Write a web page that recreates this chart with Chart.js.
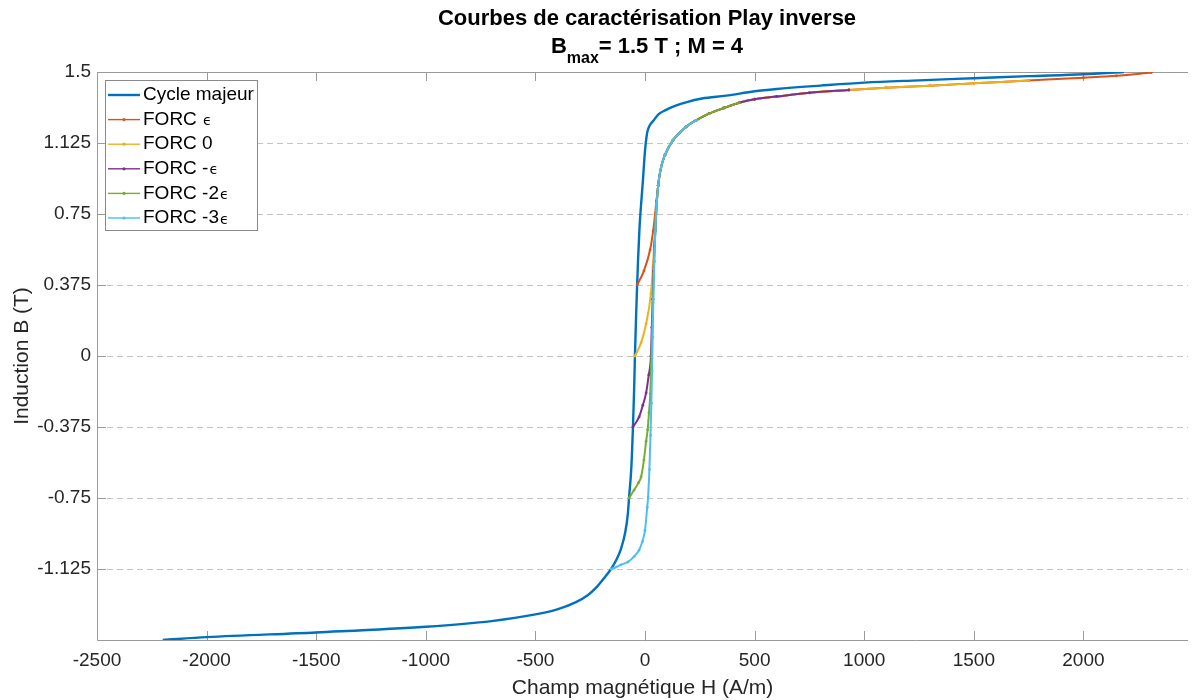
<!DOCTYPE html>
<html>
<head>
<meta charset="utf-8">
<script src="https://cdn.jsdelivr.net/npm/chart.js@4.4.1/dist/chart.umd.min.js"></script>
<style>
  html, body { margin: 0; padding: 0; background: #fff; }
</style>
</head>
<body>
<canvas id="chart" width="1192" height="700"></canvas>
<script>
// Courbes de caractérisation Play inverse - cycle majeur + FORC
const TITLE = 'Courbes de caractérisation Play inverse';
const SUBTITLE = ['B', 'max', '= 1.5 T ; M = 4'];
const X_LABEL = 'Champ magnétique H (A/m)';
const Y_LABEL = 'Induction B (T)';

const X_TICKS = [-2500, -2000, -1500, -1000, -500, 0, 500, 1000, 1500, 2000];
const Y_TICKS = [-1.125, -0.75, -0.375, 0, 0.375, 0.75, 1.125, 1.5];

// cycle majeur (branche descendante)
const MAJOR_H = [-2200, -2000, -1500, -1000, -700, -500, -400, -315, -260, -224, -190, -155, -130, -110, -90, -78, -73, -64, -60, -55, -50, -46, -41, -36, -32, -25, -18, -10, -3, 3, 10, 20, 41, 60, 96, 140, 187, 260, 370, 500, 600, 800, 1000, 1250, 1500, 1750, 2000, 2185];
const MAJOR_B = [-1.5, -1.485, -1.46, -1.43, -1.4, -1.365, -1.338, -1.3, -1.262, -1.225, -1.178, -1.125, -1.075, -1.02, -0.93, -0.83, -0.75, -0.62, -0.53, -0.375, -0.19, 0, 0.2, 0.375, 0.5, 0.68, 0.8, 0.92, 1.04, 1.12, 1.18, 1.215, 1.247, 1.275, 1.30, 1.322, 1.34, 1.36, 1.375, 1.398, 1.41, 1.428, 1.444, 1.456, 1.467, 1.478, 1.488, 1.5];

// branche montante commune des FORC
const ENV_H = [0, 10, 14, 20, 25, 29, 32, 35, 38, 42, 47, 53, 60, 70, 90, 128, 187, 233, 292, 360, 430, 500, 600, 750, 930, 1100, 1300, 1500, 1750, 2000, 2150, 2310];
const ENV_B = [-0.92, -0.8, -0.745, -0.6, -0.42, -0.25, -0.08, 0.1, 0.3, 0.5, 0.66, 0.8, 0.9, 0.98, 1.06, 1.14, 1.21, 1.245, 1.28, 1.31, 1.338, 1.356, 1.37, 1.39, 1.405, 1.417, 1.428, 1.44, 1.455, 1.47, 1.48, 1.497];

// début propre de chaque FORC (depuis le point de retournement)
const FORC_EPS_H = [-36, -5, 23, 37, 46, 52, 57];
const FORC_EPS_B = [0.375, 0.45, 0.56, 0.66, 0.75, 0.82, 0.87];
const FORC_0_H = [-46, -18, 5, 27, 36, 42, 46, 50];
const FORC_0_B = [0, 0.07, 0.17, 0.33, 0.47, 0.6, 0.68, 0.75];
const FORC_M1_H = [-55, -27, -10, 5, 17, 27, 31, 35, 39, 43];
const FORC_M1_B = [-0.375, -0.322, -0.26, -0.195, -0.1, 0, 0.15, 0.3, 0.45, 0.58];
const FORC_M2_H = [-73, -50, -30, -18, -5, 5, 12, 18, 24, 28, 32, 36, 40];
const FORC_M2_B = [-0.75, -0.708, -0.67, -0.639, -0.549, -0.45, -0.39, -0.3, -0.2, -0.05, 0.1, 0.28, 0.43];
const FORC_M3_H = [-155, -141, -110, -78, -50, -27, -12];
const FORC_M3_B = [-1.125, -1.12, -1.103, -1.088, -1.06, -1.025, -0.98];

// [label, couleur, H, B, H de raccord, H final]
const FORCS = [
  ['FORC ϵ', '#D95319', FORC_EPS_H, FORC_EPS_B, 60, 2310],
  ['FORC 0', '#EDB120', FORC_0_H, FORC_0_B, 53, 1750],
  ['FORC -ϵ', '#7E2F8E', FORC_M1_H, FORC_M1_B, 47, 930],
  ['FORC -2ϵ', '#77AC30', FORC_M2_H, FORC_M2_B, 42, 430],
  ['FORC -3ϵ', '#4DBEEE', FORC_M3_H, FORC_M3_B, 0, 233]
];

const FONT = '"Liberation Sans", Arial, Helvetica, sans-serif';
const TEXT_COLOR = '#262626';
const AXIS_COLOR = '#9a9a9a';
const TICK_LEN = 9;

function zip(hs, bs) {
  const n = Math.min(hs.length, bs.length);
  const out = [];
  for (let i = 0; i < n; i++) out.push({ x: hs[i], y: bs[i] });
  return out;
}

function forcPoints(hs, bs, from, to) {
  const pts = zip(hs, bs);
  zip(ENV_H, ENV_B).forEach(p => {
    if (p.x >= from && p.x <= to) pts.push(p);
  });
  return pts;
}

const datasets = [{
  label: 'Cycle majeur',
  data: zip(MAJOR_H, MAJOR_B),
  borderColor: '#0072BD',
  backgroundColor: '#0072BD',
  borderWidth: 2.4,
  pointRadius: 0,
  order: 6
}];

FORCS.forEach((f, i) => {
  datasets.push({
    label: f[0],
    data: forcPoints(f[2], f[3], f[4], f[5]),
    borderColor: f[1],
    backgroundColor: f[1],
    borderWidth: 2,
    pointRadius: 1.4,
    pointBorderWidth: 0,
    order: 5 - i
  });
});

const decor = {
  id: 'decor',
  beforeDatasetsDraw(chart) {
    const { ctx, chartArea: a, scales: { x, y } } = chart;
    ctx.save();
    ctx.strokeStyle = AXIS_COLOR;
    ctx.lineWidth = 1;
    ctx.beginPath();
    ctx.moveTo(a.right, a.top + 0.5);
    ctx.lineTo(a.left + 0.5, a.top + 0.5);
    ctx.lineTo(a.left + 0.5, a.bottom + 0.5);
    ctx.lineTo(a.right, a.bottom + 0.5);
    X_TICKS.forEach(v => {
      const px = Math.round(x.getPixelForValue(v)) + 0.5;
      ctx.moveTo(px, a.bottom);
      ctx.lineTo(px, a.bottom - TICK_LEN);
      ctx.moveTo(px, a.top);
      ctx.lineTo(px, a.top + TICK_LEN);
    });
    Y_TICKS.forEach(v => {
      const py = Math.round(y.getPixelForValue(v)) + 0.5;
      ctx.moveTo(a.left, py);
      ctx.lineTo(a.left + TICK_LEN, py);
    });
    ctx.stroke();
    ctx.restore();
  },
  afterDraw(chart) {
    const ctx = chart.ctx;
    ctx.save();
    ctx.fillStyle = '#000';
    ctx.textBaseline = 'middle';

    // titre
    const cx = 647;
    ctx.textAlign = 'center';
    ctx.font = 'bold 22px ' + FONT;
    ctx.fillText(TITLE, cx, 19);

    const bigFont = 'bold 22px ' + FONT;
    const subFont = 'bold 16px ' + FONT;
    ctx.font = bigFont;
    const w0 = ctx.measureText(SUBTITLE[0]).width;
    const w2 = ctx.measureText(SUBTITLE[2]).width;
    ctx.font = subFont;
    const w1 = ctx.measureText(SUBTITLE[1]).width;
    let sx = cx - (w0 + w1 + w2) / 2;
    ctx.textAlign = 'left';
    ctx.font = bigFont;
    ctx.fillText(SUBTITLE[0], sx, 47);
    sx += w0;
    ctx.font = subFont;
    ctx.fillText(SUBTITLE[1], sx, 59);
    sx += w1;
    ctx.font = bigFont;
    ctx.fillText(SUBTITLE[2], sx, 47);

    // légende
    const bx = 105.5, by = 80.5, bw = 152, bh = 150;
    ctx.fillStyle = '#fff';
    ctx.fillRect(bx, by, bw, bh);
    ctx.strokeStyle = '#8a8a8a';
    ctx.lineWidth = 1;
    ctx.strokeRect(bx, by, bw, bh);
    chart.data.datasets.forEach((ds, i) => {
      const ry = 95 + i * 24.6;
      ctx.strokeStyle = ds.borderColor;
      ctx.lineWidth = ds.borderWidth > 2 ? 2.4 : 1.4;
      ctx.beginPath();
      ctx.moveTo(108, ry);
      ctx.lineTo(140, ry);
      ctx.stroke();
      if (ds.pointRadius > 0) {
        ctx.fillStyle = ds.borderColor;
        ctx.beginPath();
        ctx.arc(124, ry, 1.6, 0, Math.PI * 2);
        ctx.fill();
      }
      ctx.fillStyle = '#000';
      ctx.font = '19px ' + FONT;
      let label = ds.label;
      let eps = '';
      if (label.endsWith('ϵ')) { eps = 'ϵ'; label = label.slice(0, -1); }
      ctx.fillText(label, 143, ry);
      if (eps) {
        const lw = ctx.measureText(label).width;
        ctx.font = '14px "DejaVu Sans", sans-serif';
        ctx.fillText(eps, 143 + lw + 1, ry + 2);
      }
    });
    ctx.restore();
  }
};

new Chart(document.getElementById('chart'), {
  type: 'scatter',
  data: { datasets },
  options: {
    responsive: false,
    animation: false,
    showLine: true,
    layout: { padding: { top: 72, right: 0, left: 0, bottom: 0 } },
    plugins: { legend: { display: false }, tooltip: { enabled: false } },
    elements: { line: { tension: 0.4, cubicInterpolationMode: 'monotone' } },
    scales: {
      x: {
        type: 'linear',
        min: -2500,
        max: 2477,
        afterFit: s => { s.height = 60; },
        afterBuildTicks: s => { s.ticks = X_TICKS.map(v => ({ value: v })); },
        grid: { display: false, drawTicks: false },
        border: { display: false },
        ticks: { padding: 9, color: TEXT_COLOR, font: { family: FONT, size: 19 }, callback: v => String(v), maxRotation: 0 },
        title: { display: true, text: X_LABEL, color: TEXT_COLOR, font: { family: FONT, size: 21, lineHeight: 1 }, padding: { top: 0, bottom: 1.5 } }
      },
      y: {
        type: 'linear',
        min: -1.5,
        max: 1.5,
        afterFit: s => { s.width = 97; },
        afterBuildTicks: s => { s.ticks = Y_TICKS.map(v => ({ value: v })); },
        grid: { color: '#c4c4c4', lineWidth: 1, drawTicks: false },
        border: { display: false, dash: [6, 4] },
        ticks: { padding: 6, color: TEXT_COLOR, font: { family: FONT, size: 19 }, callback: v => String(v) },
        title: { display: true, text: Y_LABEL, color: TEXT_COLOR, font: { family: FONT, size: 21, lineHeight: 1 }, padding: { top: 11.5, bottom: 0 } }
      }
    }
  },
  plugins: [decor]
});
</script>
</body>
</html>
